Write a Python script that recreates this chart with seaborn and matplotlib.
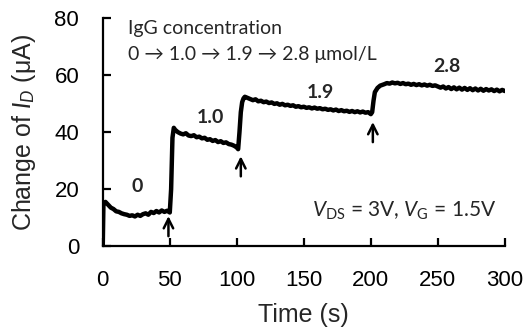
import pandas as pd
import seaborn as sns
import matplotlib.pyplot as plt

# Trace, segment by segment
time_s = [0, 0.5, 2, 4, 6, 8, 10, 12, 14, 16, 18, 20, 22, 24, 26, 28, 30, 32, 34, 36, 38, 40, 42, 44, 46, 48, 50,
          51, 52, 53, 54, 56, 58, 60, 62, 64, 66, 68, 70, 72, 74, 76, 78, 80, 82, 84, 86, 88, 90, 92, 94, 96, 98, 100, 101,
          102, 103, 104, 105, 106, 108, 110, 112, 114, 116, 118, 120, 122, 124, 126, 128, 130, 132, 134, 136, 138, 140,
          142, 144, 146, 148, 150, 152, 154, 156, 158, 160, 162, 164, 166, 168, 170, 172, 174, 176, 178, 180, 182, 184,
          186, 188, 190, 192, 194, 196, 198, 200,
          201, 202, 203, 205, 207, 210, 212, 214, 216, 218, 220, 222, 224, 226, 228, 230, 232, 234, 236, 238, 240, 242,
          244, 246, 248, 250, 252, 254, 256, 258, 260, 262, 264, 266, 268, 270, 272, 274, 276, 278, 280, 282, 284, 286,
          288, 290, 292, 294, 296, 298, 300]
current_uA = [0, 15, 15.5, 14.5, 13.5, 13, 12.2, 12, 11.5, 11.2, 11, 10.6, 10.8, 10.4, 11, 10.6, 11.2, 11.5, 11, 12, 11.6, 12.3, 11.8, 12.5, 12, 12.4, 11.8,
              20, 38, 41.5, 40.8, 40, 39.5, 39.2, 39.6, 38.8, 38.6, 38.9, 38.2, 38.4, 37.8, 38, 37.3, 37.5, 36.9, 37.2, 36.5, 36.8, 36.2, 36.4, 35.8, 35.6, 35.2, 34.6, 34,
              40, 47, 50.5, 51.8, 52.4, 52, 51.6, 51.2, 51.5, 50.8, 51, 50.5, 50.7, 50.2, 50.4, 49.9, 50.1, 49.6, 49.9, 49.4, 49.6, 49.2,
              49.4, 48.9, 49.1, 48.7, 48.9, 48.5, 48.7, 48.3, 48.6, 48.2, 48.4, 48, 48.2, 47.8, 48, 47.6, 47.9, 47.4, 47.7, 47.3, 47.5, 47.1,
              47.4, 47, 47.3, 46.9, 47.2, 46.8, 47, 46.3,
              47, 51, 54, 55.5, 56.3, 56.8, 57.2, 57, 57.4, 57.1, 57.3, 56.9, 57.2, 56.8, 57, 56.6, 56.9, 56.5, 56.8, 56.4, 56.7, 56.3,
              56.6, 56.2, 56.4, 56, 55.6, 56, 55.3, 55.8, 55.1, 55.7, 55, 55.6, 54.9, 55.5, 54.8, 55.4, 54.7, 55.3, 54.6, 55.2, 54.5, 55.1,
              54.6, 55, 54.4, 54.9, 54.3, 54.8, 54.4]

# Concentration labels and where they sit
conc_labels = ["0", "1.0", "1.9", "2.8"]
conc_x = [26, 80, 162, 257]
conc_y = [21, 45, 54, 63]

# Injection arrows (time, tip, tail)
arrow_t = [49, 103, 201.5]
arrow_tip = [11.5, 32.5, 44.5]
arrow_tail = [2.5, 23.5, 35.5]

df = pd.DataFrame({"time": time_s, "current": current_uA})

sns.set_style("ticks")
plt.rcParams["font.family"] = ["Liberation Sans", "DejaVu Sans"]
plt.rcParams["mathtext.fontset"] = "custom"
plt.rcParams["mathtext.rm"] = "Lato"
plt.rcParams["mathtext.it"] = "Lato:italic"

fig = plt.figure(figsize=(5.27, 3.29), dpi=100)
ax = fig.add_axes([0.195, 0.252, 0.763, 0.693])

sns.lineplot(data=df, x="time", y="current", color="black", linewidth=3.2, ax=ax)

ax.set_xlim(0, 300)
ax.set_ylim(0, 80)
ax.set_xticks(range(0, 301, 50))
ax.set_yticks(range(0, 81, 20))
sns.despine(ax=ax)
for s in ["left", "bottom"]:
    ax.spines[s].set_linewidth(1.6)
    ax.spines[s].set_color("black")
ax.tick_params(direction="in", length=6, width=1.6, labelsize=16, colors="black")
ax.tick_params(axis="y", pad=17)
ax.tick_params(axis="x", pad=17)

ax.set_xlabel("Time (s)", fontsize=18, labelpad=9)
ax.set_ylabel("Change of $\\mathit{I_D}$ (μA)", fontsize=18, labelpad=12)

note_font = ["Lato", "DejaVu Sans"]
ax.text(19, 76.3, "IgG concentration", fontsize=14, family=note_font, va="center")
ax.text(19, 67.3, "0 → 1.0 → 1.9 → 2.8 μmol/L", fontsize=14, family=note_font, va="center")
ax.text(156, 12.5, "$\\mathit{V}_{\\mathrm{DS}}$ = 3V, $\\mathit{V}_{\\mathrm{G}}$ = 1.5V", fontsize=15,
        family=note_font, va="center")

for lab, x, y in zip(conc_labels, conc_x, conc_y):
    ax.text(x, y, lab, fontsize=14, fontweight="bold", family=note_font, ha="center", va="center")

for t, tip, tail in zip(arrow_t, arrow_tip, arrow_tail):
    ax.annotate("", xy=(t, tip), xytext=(t, tail),
                arrowprops=dict(arrowstyle="->", color="black", lw=1.8, mutation_scale=17))

fig.savefig("out.png", dpi=100)
